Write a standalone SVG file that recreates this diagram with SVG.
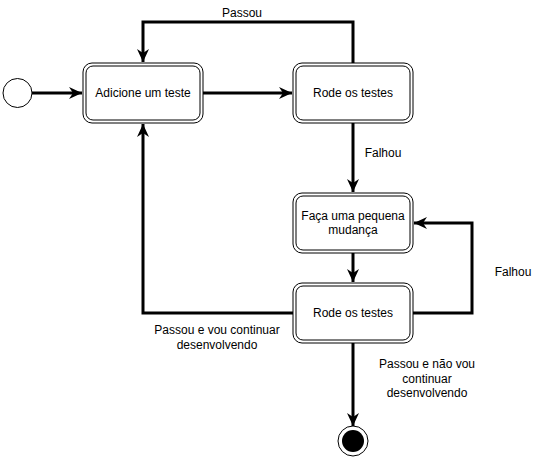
<svg xmlns="http://www.w3.org/2000/svg" width="535" height="460" viewBox="0 0 535 460">
<style>
.box{fill:#fff;stroke:#000;stroke-width:1}
.edge{fill:none;stroke:#000;stroke-width:3}
text{font-family:"Liberation Sans",Arial,sans-serif;font-size:12px;fill:#000;text-anchor:middle}
</style>
<defs>
<marker id="arr" markerUnits="userSpaceOnUse" markerWidth="14" markerHeight="14" viewBox="0 0 14 14" refX="13" refY="7" orient="auto">
<path d="M0,1 L13,7 L0,13 L4,7 z" fill="#000"/>
</marker>
</defs>
<rect width="535" height="460" fill="#fff"/>
<g id="connectors">
<path class="edge" d="M32,93 H82" marker-end="url(#arr)"/>
<path class="edge" d="M203,93 H292" marker-end="url(#arr)"/>
<path class="edge" d="M353,63 V22 H143 V62" marker-end="url(#arr)"/>
<path class="edge" d="M353,123 V192" marker-end="url(#arr)"/>
<path class="edge" d="M353,253 V282" marker-end="url(#arr)"/>
<path class="edge" d="M413,313 H472 V223 H414" marker-end="url(#arr)"/>
<path class="edge" d="M293,313 H143 V124" marker-end="url(#arr)"/>
<path class="edge" d="M353,343 V426" marker-end="url(#arr)"/>
<text x="242" y="17">Passou</text>
<text x="383" y="157">Falhou</text>
<text x="513" y="276">Falhou</text>
<text x="217" y="334">Passou e vou continuar</text>
<text x="217" y="349">desenvolvendo</text>
<text x="427" y="368">Passou e não vou</text>
<text x="427" y="383">continuar</text>
<text x="427" y="397">desenvolvendo</text>
</g>
<g id="start">
<circle cx="17.5" cy="93" r="14.5" fill="#fff" stroke="#000" stroke-width="1"/>
</g>
<g id="adicione">
<rect class="box" x="83" y="63" width="120" height="60" rx="9"/>
<rect class="box" x="86" y="66" width="114" height="54" rx="7"/>
<text x="143" y="97">Adicione um teste</text>
</g>
<g id="rode1">
<rect class="box" x="293" y="63" width="120" height="60" rx="9"/>
<rect class="box" x="296" y="66" width="114" height="54" rx="7"/>
<text x="353" y="97">Rode os testes</text>
</g>
<g id="faca">
<rect class="box" x="293" y="193" width="120" height="60" rx="9"/>
<rect class="box" x="296" y="196" width="114" height="54" rx="7"/>
<text x="353" y="220">Faça uma pequena</text>
<text x="353" y="234">mudança</text>
</g>
<g id="rode2">
<rect class="box" x="293" y="283" width="120" height="60" rx="9"/>
<rect class="box" x="296" y="286" width="114" height="54" rx="7"/>
<text x="353" y="317">Rode os testes</text>
</g>
<g id="end">
<circle cx="353" cy="441" r="15" fill="#fff" stroke="#000" stroke-width="1"/>
<circle cx="353" cy="441" r="11" fill="#000"/>
</g>
</svg>
